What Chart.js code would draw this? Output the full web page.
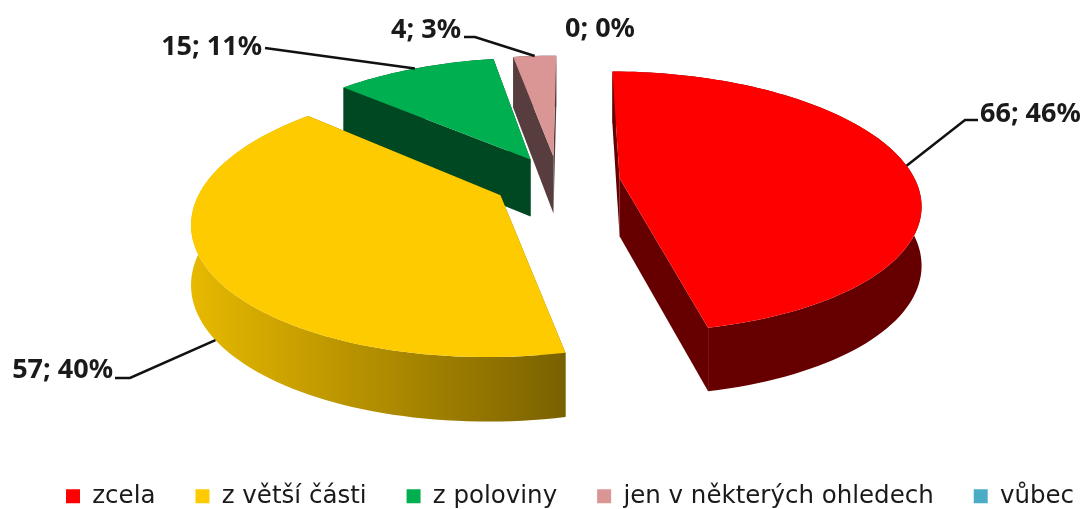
<!DOCTYPE html>
<html>
<head>
<meta charset="utf-8">
<style>
  html, body { margin: 0; padding: 0; background: #fff; overflow: hidden; }
  #wrap { width: 1084px; height: 509px; }
</style>
<script src="https://cdn.jsdelivr.net/npm/chart.js@4"></script>
</head>
<body>
<div id="wrap"><canvas id="pie" width="1084" height="509"></canvas></div>
<script>
// data
const categories = ['zcela', 'z větší části', 'z poloviny', 'jen v některých ohledech', 'vůbec'];
const values = [66, 57, 15, 4, 0];

// colours
const topColors = ['#ff0000', '#fdcb00', '#00b050', '#d99694', '#4bacc6'];
const wallColors = ['#660000', '#7a6100', '#004821', '#573d3d', '#1e4d5c'];

// label placement: text anchor, elbow of the leader line, where on the arc it starts
const labelX = [980, 113, 262, 461, 565];
const labelY = [114, 370, 47, 30, 29];
const labelAlign = ['left', 'right', 'right', 'right', 'left'];
const elbowA = [[965, 120], [130, 378], null, [475, 37], null];
const elbowB = [[978, 120], [115, 378], [265, 48], [464, 37], null];
const leaderAt = [0.5, 0.47, 0.5, 0.5, 0.5];

// fake 3D camera, fitted by eye to the picture
const view = { x: 558, y: 181, rx: 296, ry: 127, depth: 58, persp: 0.18 };
const explode = [0.21, 0.22, 0.2, 0.2, 0.2];

function project(X, W, down) {
  const s = 1 - view.persp * W;
  const drop = down ? view.depth * (1 + 0.1 * W) : 0;
  return [view.x + view.rx * X / s, view.y + view.ry * W / s + drop];
}

function rimPoints(arc, ox, oy, down) {
  const pts = [];
  const steps = Math.max(2, Math.ceil((arc.endAngle - arc.startAngle) / 0.03));
  for (let i = 0; i <= steps; i++) {
    const a = arc.startAngle + (arc.endAngle - arc.startAngle) * i / steps;
    pts.push(project(ox + Math.cos(a), oy + Math.sin(a), down));
  }
  return pts;
}

function fillPoly(ctx, pts, fill) {
  ctx.beginPath();
  pts.forEach((p, i) => i ? ctx.lineTo(p[0], p[1]) : ctx.moveTo(p[0], p[1]));
  ctx.closePath();
  ctx.fillStyle = fill;
  ctx.fill();
}

function sliceOffset(arc, i) {
  const mid = (arc.startAngle + arc.endAngle) / 2;
  return [explode[i] * Math.cos(mid), explode[i] * Math.sin(mid)];
}

// Pie3D: the pie controller works out the angles, this extrudes them
const pie3d = {
  id: 'pie3d',
  afterLayout(chart) {
    // legend sits low and left of centre in the original
    const lg = chart.legend;
    const pad = lg.options.labels.padding;
    const dx = 66 - (lg.left + pad);
    lg.left += dx;
    lg.right += dx;
    const dy = 484 - pad - lg.top;
    lg.top += dy;
    lg.bottom += dy;
  },
  beforeDatasetsDraw(chart) {
    const ctx = chart.ctx;
    const arcs = chart.getDatasetMeta(0).data;
    for (let i = arcs.length - 1; i >= 0; i--) {
      const arc = arcs[i];
      if (values[i] === 0) continue;
      const [ox, oy] = sliceOffset(arc, i);
      const topRim = rimPoints(arc, ox, oy, false);
      const lowRim = rimPoints(arc, ox, oy, true);
      const apexTop = project(ox, oy, false);
      const apexLow = project(ox, oy, true);

      // straight cut walls first
      fillPoly(ctx, [apexTop, topRim[0], lowRim[0], apexLow], wallColors[i]);
      fillPoly(ctx, [apexTop, topRim[topRim.length - 1], lowRim[lowRim.length - 1], apexLow], wallColors[i]);

      // round outer wall, yellow one fades to the right
      let wall = wallColors[i];
      if (i === 1) {
        wall = ctx.createLinearGradient(195, 0, 565, 0);
        wall.addColorStop(0, '#e6b800');
        wall.addColorStop(1, wallColors[1]);
      }
      fillPoly(ctx, topRim.concat(lowRim.slice().reverse()), wall);

      // top face
      fillPoly(ctx, [apexTop].concat(topRim), topColors[i]);
    }
    drawLabels(chart);
    return false;
  }
};

function drawLabels(chart) {
  const ctx = chart.ctx;
  const arcs = chart.getDatasetMeta(0).data;
  const total = values.reduce((a, b) => a + b, 0);
  ctx.font = 'bold 27px "Noto Sans"';
  ctx.textBaseline = 'middle';
  arcs.forEach((arc, i) => {
    if (elbowB[i]) {
      const [ox, oy] = sliceOffset(arc, i);
      const a = arc.startAngle + (arc.endAngle - arc.startAngle) * leaderAt[i];
      const W = oy + Math.sin(a);
      const start = project(ox + Math.cos(a), W, W > 0);
      ctx.beginPath();
      ctx.moveTo(start[0], start[1]);
      if (elbowA[i]) ctx.lineTo(elbowA[i][0], elbowA[i][1]);
      ctx.lineTo(elbowB[i][0], elbowB[i][1]);
      ctx.strokeStyle = '#111';
      ctx.lineWidth = 2.5;
      ctx.stroke();
    }
    ctx.fillStyle = '#1a1a1a';
    ctx.textAlign = labelAlign[i];
    ctx.fillText(values[i] + '; ' + Math.round(values[i] / total * 100) + '%', labelX[i], labelY[i]);
  });
}

new Chart(document.getElementById('pie'), {
  type: 'pie',
  data: {
    labels: categories,
    datasets: [{ data: values, backgroundColor: topColors, borderWidth: 0 }]
  },
  options: {
    responsive: false,
    animation: false,
    rotation: 0.5,
    layout: { padding: { left: -40, right: -40 } },
    plugins: {
      tooltip: { enabled: false },
      legend: {
        position: 'bottom',
        align: 'start',
        labels: {
          boxWidth: 14,
          boxHeight: 14,
          padding: 40,
          color: '#1a1a1a',
          font: { family: '"DejaVu Sans"', size: 24.5 }
        }
      }
    }
  },
  plugins: [pie3d]
});
</script>
</body>
</html>
